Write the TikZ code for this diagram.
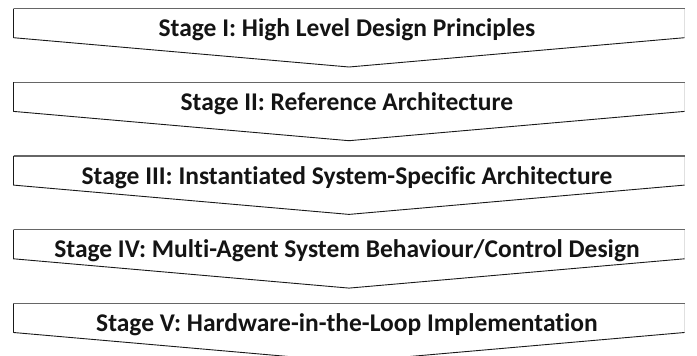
\documentclass[tikz,border=0pt]{standalone}
\usepackage{fontspec}
\setmainfont[Ligatures={NoCommon}]{Carlito}
\begin{document}
\begin{tikzpicture}[x=1pt,y=-1pt,
  stagetext/.style={anchor=base,inner sep=0pt,font=\fontsize{25.5}{28}\selectfont\bfseries,text=black!92},
  slantline/.style={draw=black!90,line width=0.9pt,line join=round},
  topline/.style={draw=black!60,line width=1.3pt},
  rightline/.style={draw=black!12,line width=0.8pt}]
\useasboundingbox (0,0) rectangle (697,356);
\clip (0,0) rectangle (697,356);
% five stage chevrons, 73.7 apart
\foreach \i/\txt in {0/{Stage I: High Level Design Principles},
                     1/{Stage II: Reference Architecture},
                     2/{Stage III: Instantiated System-Specific Architecture},
                     3/{Stage IV: Multi-Agent System Behaviour/Control Design},
                     4/{Stage V: Hardware-in-the-Loop Implementation}}{
  \pgfmathsetmacro{\t}{8.5+73.7*\i}
  \coordinate (tl\i) at (13.5,\t);
  \coordinate (tr\i) at (684.5,\t);
  \coordinate (br\i) at (684.5,\t+29.2);
  \coordinate (tip\i) at (349,\t+58.5);
  \coordinate (bl\i) at (13.5,\t+29.2);
  \fill[white] (tl\i) -- (tr\i) -- (br\i) -- (tip\i) -- (bl\i) -- cycle;
  \draw[rightline] (tr\i) -- (br\i);
  \draw[slantline] (tl\i) -- (bl\i) -- (tip\i) -- (br\i);
  \draw[topline] (tl\i) -- (tr\i);
  \node[stagetext] (s\i) at (347,\t+28.2) {\txt};
}
\end{tikzpicture}
\end{document}
